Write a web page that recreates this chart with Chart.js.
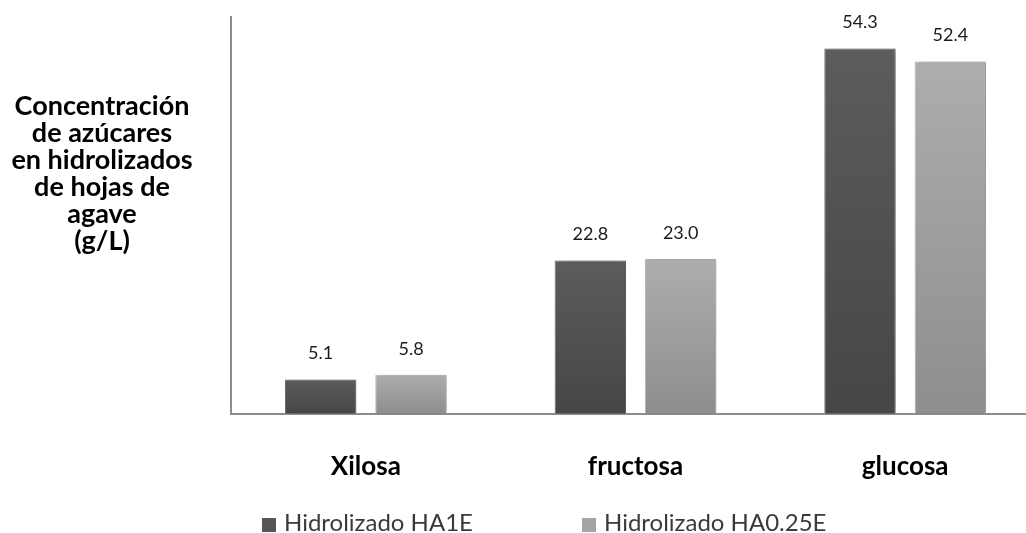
<!DOCTYPE html>
<html lang="es">
<head>
<meta charset="UTF-8">
<title>Azúcares en hidrolizados de agave</title>
<script src="https://cdn.jsdelivr.net/npm/chart.js"></script>
<style>
    html, body { margin: 0; padding: 0; background: #fff; }
    .wrap { position: relative; width: 1026px; height: 533px; overflow: hidden; font-family: Lato, "Open Sans", sans-serif; }
    canvas { position: absolute; left: 0; top: 0; }
    .ytitle {
        position: absolute; left: 0; top: 91px; width: 204px;
        text-align: center; font-weight: bold; font-size: 27px; line-height: 27px; color: #000;
    }
    .legend { position: absolute; top: 508px; left: 0; width: 1026px; height: 25px; font-size: 24px; color: #3a3a3a; }
    .legend span { position: absolute; top: 0; white-space: nowrap; line-height: 27px; }
    .legend i { display: inline-block; width: 14px; height: 14px; margin-right: 8px; vertical-align: -1px; }
</style>
</head>
<body>
<div class="wrap">
    <canvas id="azucares" width="1044" height="533"></canvas>
    <div class="ytitle">Concentración<br>de azúcares<br>en hidrolizados<br>de hojas de<br>agave<br>(g/L)</div>
    <div class="legend" id="leyenda"></div>
</div>
<script>
const categorias = ['Xilosa', 'fructosa', 'glucosa'];
const seriesNombres = ['Hidrolizado HA1E', 'Hidrolizado HA0.25E'];
const valoresHA1E = [5.1, 22.8, 54.3];
const valoresHA025E = [5.8, 23.0, 52.4];

// relleno degradado por barra (arriba más claro)
function relleno(claro, oscuro) {
    return function (c) {
        const ch = c.chart;
        if (!ch.chartArea || !ch.scales.y || c.raw == null) return claro;
        const y0 = ch.scales.y.getPixelForValue(c.raw);
        const y1 = ch.scales.y.getPixelForValue(0);
        const g = ch.ctx.createLinearGradient(0, y0, 0, y1);
        g.addColorStop(0, claro);
        g.addColorStop(1, oscuro);
        return g;
    };
}

const sombra = {
    id: 'sombra',
    beforeDatasetsDraw(chart) {
        const ctx = chart.ctx;
        ctx.save();
        ctx.shadowColor = 'rgba(0,0,0,0.28)';
        ctx.shadowBlur = 5;
        ctx.shadowOffsetX = 2;
        ctx.shadowOffsetY = 0;
    },
    afterDatasetsDraw(chart) {
        chart.ctx.restore();
    }
};

const etiquetas = {
    id: 'etiquetas',
    afterDatasetsDraw(chart) {
        const ctx = chart.ctx;
        ctx.save();
        ctx.font = '18px Lato, "Open Sans", sans-serif';
        ctx.fillStyle = '#1a1a1a';
        ctx.textAlign = 'center';
        ctx.textBaseline = 'middle';
        chart.data.datasets.forEach((ds, i) => {
            chart.getDatasetMeta(i).data.forEach((bar, j) => {
                ctx.fillText(ds.data[j].toFixed(1), bar.x, bar.y - 26);
            });
        });
        ctx.restore();
    }
};

const chart = new Chart(document.getElementById('azucares'), {
    type: 'bar',
    data: {
        labels: categorias,
        datasets: [{
            label: seriesNombres[0],
            data: valoresHA1E,
            backgroundColor: relleno('#5c5c5c', '#464646'),
            borderColor: '#6e6e6e',
            borderWidth: 1,
            legendColor: '#565656'
        }, {
            label: seriesNombres[1],
            data: valoresHA025E,
            backgroundColor: relleno('#adadad', '#8e8e8e'),
            borderColor: '#bdbdbd',
            borderWidth: 1,
            legendColor: '#a4a4a4'
        }]
    },
    options: {
        responsive: false,
        animation: false,
        devicePixelRatio: 1,
        categoryPercentage: 0.67,
        barPercentage: 0.79,
        layout: { padding: { left: 231, top: 17, right: 4, bottom: 14 } },
        plugins: {
            legend: { display: false },
            tooltip: { enabled: false }
        },
        scales: {
            x: {
                grid: { display: false, drawTicks: false },
                border: { color: '#8c8c8c', width: 2 },
                ticks: {
                    color: '#000',
                    padding: 37,
                    font: { family: 'Lato, "Open Sans", sans-serif', size: 26, weight: 'bold' }
                }
            },
            y: {
                min: 0,
                max: 59,
                grid: { display: false, drawTicks: false },
                border: { color: '#8c8c8c', width: 2 },
                ticks: { display: false }
            }
        }
    },
    plugins: [sombra, etiquetas]
});

// leyenda en HTML, bajo el gráfico
const leyenda = document.getElementById('leyenda');
const posiciones = [262, 582];
chart.data.datasets.forEach((ds, i) => {
    const s = document.createElement('span');
    s.style.left = posiciones[i] + 'px';
    s.innerHTML = '<i style="background:' + ds.legendColor + '"></i>' + ds.label;
    leyenda.appendChild(s);
});
</script>
</body>
</html>
